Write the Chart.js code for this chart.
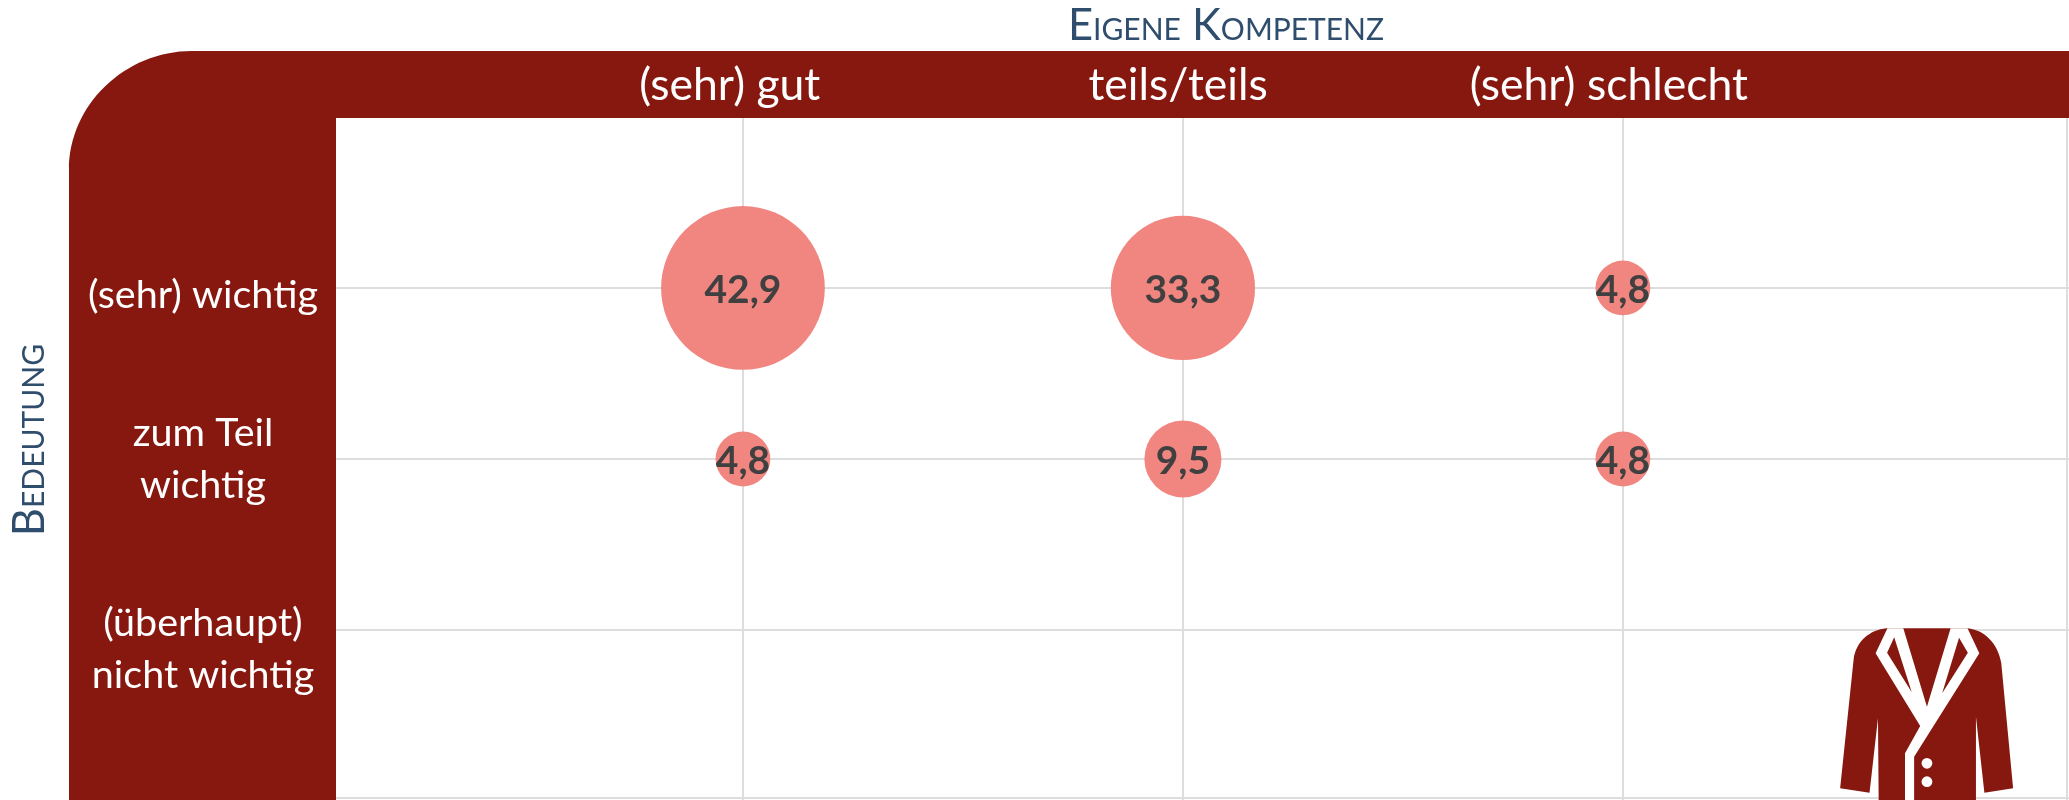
<!DOCTYPE html>
<html>
<head>
<meta charset="utf-8">
<title>Eigene Kompetenz</title>
<script src="https://cdn.jsdelivr.net/npm/chart.js@4"></script>
<style>
html, body { margin: 0; padding: 0; background: #fff; overflow: hidden; }
#wrap { width: 2069px; height: 800px; position: relative; }
canvas { display: block; }
</style>
</head>
<body>
<div id="wrap"><canvas id="chart"></canvas></div>
<script>
// Values (percent)
const competence = ['(sehr) gut', 'teils/teils', '(sehr) schlecht'];
const importance = [['(sehr) wichtig'], ['zum Teil', 'wichtig'], ['(überhaupt)', 'nicht wichtig']];
const rowGood = [42.9, 4.8];
const rowMixed = [33.3, 9.5];
const rowBad = [4.8, 4.8];

const RED = '#87180f';
const FONT = 'Lato, "Open Sans", sans-serif';
const X_MIN = 0.075, X_MAX = 4.014;
const Y_MIN = 0.006, Y_MAX = 3.994;

function points(col, values) {
    return values.map(function(v, i) {
        return { x: col, y: i + 1, v: v };
    });
}

// Red frame behind the axis labels, drawn round the chart area
const framePlugin = {
    id: 'frame',
    beforeDraw: function(chart) {
        const a = chart.chartArea, ctx = chart.ctx;
        ctx.save();
        ctx.fillStyle = RED;
        ctx.beginPath();
        ctx.moveTo(69, 800);
        ctx.lineTo(69, 170);
        ctx.bezierCurveTo(69, 105, 125, 51, 192, 51);
        ctx.lineTo(2069, 51);
        ctx.lineTo(2069, a.top);
        ctx.lineTo(a.left, a.top);
        ctx.lineTo(a.left, 800);
        ctx.closePath();
        ctx.fill();
        ctx.restore();
    }
};

// Titles, value labels and the jacket icon
const overlayPlugin = {
    id: 'overlay',
    afterDraw: function(chart) {
        const ctx = chart.ctx;
        ctx.save();
        ctx.fillStyle = '#2f4d6c';
        ctx.textAlign = 'center';
        ctx.textBaseline = 'middle';
        ctx.font = 'small-caps 43.5px ' + FONT;
        ctx.fillText('Eigene Kompetenz', 1226, 26);
        ctx.translate(30, 440);
        ctx.rotate(-Math.PI / 2);
        ctx.fillText('Bedeutung', 0, 0);
        ctx.restore();

        ctx.save();
        ctx.fillStyle = '#404040';
        ctx.textAlign = 'center';
        ctx.textBaseline = 'middle';
        ctx.font = 'bold 39px ' + FONT;
        chart.data.datasets.forEach(function(ds, d) {
            chart.getDatasetMeta(d).data.forEach(function(el, i) {
                ctx.fillText(String(ds.data[i].v.toFixed(1)).replace('.', ','), el.x, el.y + 2);
            });
        });
        ctx.restore();

        drawJacket(ctx);
    }
};

function drawJacket(ctx) {
    ctx.save();
    ctx.translate(1780, 600);
    ctx.scale(1 / 2.96, 1 / 3);
    ctx.fillStyle = RED;
    ctx.fill(new Path2D('M315 85 C265 90 225 125 218 178 L178 565 L265 578 L290 355 L292 600 L580 600 L580 350 L605 578 L690 565 L655 190 C645 130 605 90 555 85 Z'));
    ctx.fillStyle = '#fff';
    ctx.fill(new Path2D('M318 85 L283 160 L415 378 L370 460 L370 600 L397 600 L397 470 L590 160 L555 85 L505 85 L435 320 L365 85 Z'));
    ctx.fillStyle = RED;
    ctx.fill(new Path2D('M338 112 L317 158 L390 277 Z M530 113 L556 158 L480 280 Z'));
    ctx.fillStyle = '#fff';
    ctx.beginPath();
    ctx.ellipse(435, 490, 16, 16, 0, 0, Math.PI * 2);
    ctx.ellipse(435, 545, 16, 16, 0, 0, Math.PI * 2);
    ctx.fill();
    ctx.restore();
}

function dataset(col, values) {
    return {
        data: points(col, values),
        xAxisID: 'x',
        yAxisID: 'y',
        backgroundColor: '#f18680',
        borderWidth: 0,
        hoverRadius: 0,
        radius: function(c) {
            // bubble area follows the value
            return c.raw ? 12.5 * Math.sqrt(c.raw.v) : 0;
        }
    };
}

new Chart(document.getElementById('chart'), {
    type: 'bubble',
    data: {
        datasets: [dataset(1, rowGood), dataset(2, rowMixed), dataset(3, rowBad)]
    },
    options: {
        responsive: true,
        maintainAspectRatio: false,
        animation: false,
        clip: false,
        layout: { autoPadding: false, padding: 0 },
        plugins: {
            legend: { display: false },
            tooltip: { enabled: false }
        },
        scales: {
            // x and y carry the grid, xLabels and yLabels carry the texts
            // because the texts in the picture sit a little off the grid lines
            x: {
                type: 'linear',
                position: 'top',
                min: X_MIN,
                max: X_MAX,
                afterFit: function(s) { s.height = 0; s.paddingLeft = 0; s.paddingRight = 0; },
                afterBuildTicks: function(s) {
                    s.ticks = [{ value: 1 }, { value: 2 }, { value: 3 }, { value: 4.01 }];
                },
                border: { display: false },
                grid: { color: '#dddddd', lineWidth: 2, drawTicks: false },
                ticks: { display: false }
            },
            y: {
                type: 'linear',
                position: 'left',
                reverse: true,
                min: Y_MIN,
                max: Y_MAX,
                afterFit: function(s) { s.width = 0; s.paddingTop = 0; s.paddingBottom = 0; },
                afterBuildTicks: function(s) {
                    s.ticks = [{ value: 1 }, { value: 2 }, { value: 3 }, { value: 3.985 }];
                },
                border: { display: false },
                grid: { color: '#dddddd', lineWidth: 2, drawTicks: false },
                ticks: { display: false }
            },
            xLabels: {
                type: 'linear',
                position: 'top',
                min: X_MIN,
                max: X_MAX,
                afterFit: function(s) { s.height = 118; s.paddingLeft = 0; s.paddingRight = 0; },
                afterBuildTicks: function(s) {
                    s.ticks = [{ value: 0.97 }, { value: 1.989 }, { value: 2.968 }];
                },
                border: { display: false },
                grid: { display: false, drawTicks: false },
                ticks: {
                    autoSkip: false,
                    maxRotation: 0,
                    padding: 6,
                    color: '#ffffff',
                    font: { family: FONT, size: 44.5 },
                    callback: function(v, i) { return competence[i]; }
                }
            },
            yLabels: {
                type: 'linear',
                position: 'left',
                reverse: true,
                min: Y_MIN,
                max: Y_MAX,
                afterFit: function(s) { s.width = 336; s.paddingTop = 0; s.paddingBottom = 0; },
                afterBuildTicks: function(s) {
                    s.ticks = [{ value: 1.04 }, { value: 2 }, { value: 3.115 }];
                },
                border: { display: false },
                grid: { display: false, drawTicks: false },
                ticks: {
                    autoSkip: false,
                    padding: 18,
                    color: '#ffffff',
                    crossAlign: 'center',
                    font: { family: FONT, size: 39.5, lineHeight: 1.32 },
                    callback: function(v, i) { return importance[i]; }
                }
            }
        }
    },
    plugins: [framePlugin, overlayPlugin]
});
</script>
</body>
</html>
